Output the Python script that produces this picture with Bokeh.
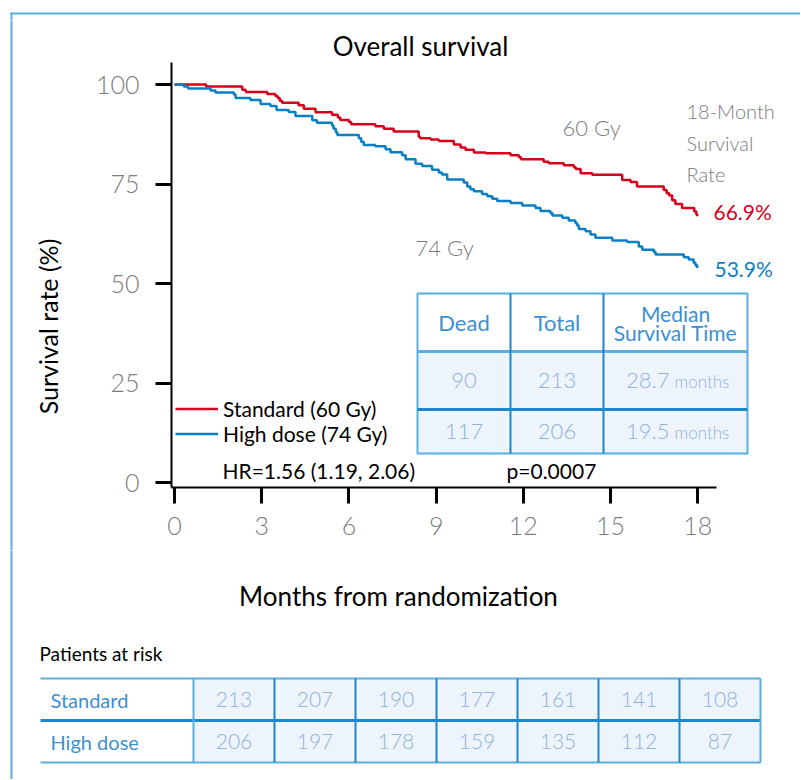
import math
from bokeh.plotting import figure
from bokeh.layouts import column, row
from bokeh.models import Range1d, Label, BoxAnnotation, Legend, LegendItem, FixedTicker
from bokeh.embed import file_html
from bokeh.resources import INLINE

FONT = "Lato"
LIGHT = "Lato Light"
RED = "#d6001c"
BLUE = "#0a7fc4"
GRAY = "#7c7c7c"
FRAME = "#5aaee0"
TBL_LINE = "#5aaee0"
TBL_DARK = "#1f86cc"
TBL_FILL = "#eef4fb"
TBL_HEAD = "#3c8fd2"
TBL_NUM = "#8fb2dc"

# ---------------- data ----------------
std_t = [0, 1.09, 2.33, 2.45, 3.19, 3.47, 3.55, 3.62, 3.70, 4.27, 4.45, 4.85, 5.42, 5.62, 5.70,
         6.00, 6.08, 6.91, 7.20, 7.54, 8.40, 8.45, 8.81, 9.09, 9.61, 9.84, 10.01, 10.30, 10.70,
         11.56, 11.85, 11.92, 12.70, 12.87, 13.39, 13.74, 13.80, 13.97, 14.37, 15.40, 15.69,
         15.91, 16.83, 16.93, 17.02, 17.12, 17.23, 17.46, 17.88, 17.95, 17.98]
std_s = [100, 99.5, 98.7, 98.1, 97.6, 97.1, 96.6, 95.9, 95.4, 94.8, 93.9, 93.0, 92.4, 91.7, 91.1,
         90.6, 90.0, 89.5, 88.9, 88.2, 86.9, 86.5, 86.2, 85.8, 84.9, 84.2, 83.6, 82.9, 82.7,
         82.2, 81.7, 81.2, 80.6, 80.2, 79.7, 79.2, 78.8, 77.7, 77.3, 76.0, 75.5,
         74.4, 73.5, 72.7, 72.1, 70.9, 70.0, 69.0, 68.1, 67.4, 66.9]

hd_t = [0, 0.32, 0.47, 1.24, 1.41, 2.04, 2.10, 2.61, 2.96, 3.30, 3.51, 3.93, 4.16, 4.74, 4.90,
        5.42, 5.47, 5.55, 5.60, 6.34, 6.42, 6.51, 6.91, 7.26, 7.43, 7.83, 7.95, 8.29, 8.52, 8.86,
        9.09, 9.20, 9.38, 9.95, 10.07, 10.18, 10.30, 10.58, 10.76, 10.93, 11.10, 11.56, 11.96,
        12.42, 12.59, 12.93, 13.00, 13.34, 13.56, 13.79, 13.85, 13.91, 14.14, 14.31, 14.48,
        15.06, 15.57, 15.97, 16.09, 16.49, 16.55, 17.52, 17.69, 17.86, 17.92, 17.98]
hd_s = [100, 99.5, 99.0, 98.5, 98.0, 97.5, 96.6, 96.1, 95.1, 94.6, 93.6, 93.1, 92.1, 91.0, 90.4,
        89.7, 88.9, 88.0, 87.3, 86.5, 85.6, 84.8, 84.5, 83.7, 83.0, 82.2, 81.2, 80.1, 79.5, 78.6,
        77.9, 77.4, 76.1, 75.4, 74.4, 73.7, 73.2, 72.5, 71.9, 71.3, 70.7, 70.2, 69.6,
        69.0, 68.2, 67.7, 67.1, 66.5, 65.8, 65.2, 64.6, 63.7, 63.1, 62.3, 61.5,
        60.8, 60.4, 59.3, 58.5, 57.9, 57.3, 56.6, 56.0, 55.2, 54.6, 53.9]

x_ticks = [0, 3, 6, 9, 12, 15, 18]
y_ticks = [0, 25, 50, 75, 100]

series_names = ["Standard (60 Gy)", "High dose (74 Gy)"]
rate_18m = ["66.9%", "53.9%"]

summary_header = ["Dead", "Total", "Median\nSurvival Time"]
summary_dead = [90, 117]
summary_total = [213, 206]
summary_median = ["28.7", "19.5"]

risk_groups = ["Standard", "High dose"]
risk_std = [213, 207, 190, 177, 161, 141, 108]
risk_hd = [206, 197, 178, 159, 135, 112, 87]

# ---------------- layout geometry (page pixels) ----------------
W = 800
TOP_H = 20          # strip with the top frame line
SPLIT_X = 80        # width of the y-label strip
MID_BOTTOM = 550    # bottom of the survival-plot row
H = 779
FRAME_L, FRAME_B = 171, 487   # survival plot frame: left edge / bottom edge

PX_PER_MONTH = 29.07
PX_PER_PCT = 3.98
X0_PX = 174   # pixel of month 0
Y0_PX = 482   # pixel of 0 %


def strip(x0, x1, y0, y1):
    f = figure(width=x1 - x0, height=y1 - y0, x_range=Range1d(x0, x1), y_range=Range1d(y1, y0),
               x_axis_location=None, y_axis_location=None, title=None,
               output_backend="svg", toolbar_location=None,
               min_border_left=0, min_border_right=0, min_border_top=0, min_border_bottom=0)
    f.frame_align = False
    f.outline_line_color = None
    f.xgrid.visible = False
    f.ygrid.visible = False
    return f


def lab(f, x, y, text, size, color, align="left", angle=0.0, font=FONT, rng=None):
    kw = dict(x_range_name=rng, y_range_name=rng) if rng else {}
    f.add_layout(Label(x=x, y=y, text=text, text_font=font, text_font_size=f"{size}px",
                       text_color=color, text_align=align, text_baseline="middle",
                       angle=angle, **kw))


def box(f, l, r, t, b, fill=None, line=None, lw=1.0, rng=None):
    kw = dict(x_range_name=rng, y_range_name=rng) if rng else {}
    f.add_layout(BoxAnnotation(left=l, right=r, top=t, bottom=b,
                               fill_color=fill if fill else "white",
                               fill_alpha=1.0 if fill else 0.0,
                               line_color=line if line else "white",
                               line_alpha=1.0 if line else 0.0, line_width=lw, **kw))


# ---------------- top strip ----------------
top = strip(0, W, 0, TOP_H)
box(top, 10, W + 5, 12, 14, fill=FRAME)
box(top, 10, 12, 12, TOP_H + 2, fill=FRAME)

# ---------------- y-label strip ----------------
left = strip(0, SPLIT_X, TOP_H, MID_BOTTOM)
box(left, 10, 12, TOP_H - 2, MID_BOTTOM + 2, fill=FRAME)
lab(left, 47, 326, "Survival rate (%)", 25, "black", "center", math.pi / 2)

# ---------------- survival plot ----------------
x_start = (FRAME_L - X0_PX) / PX_PER_MONTH
x_end = (W - X0_PX) / PX_PER_MONTH
y_start = (Y0_PX - FRAME_B) / PX_PER_PCT
y_end = (Y0_PX - TOP_H) / PX_PER_PCT
p = figure(width=W - SPLIT_X, height=MID_BOTTOM - TOP_H, title=None,
           x_range=Range1d(x_start, x_end), y_range=Range1d(y_start, y_end),
           output_backend="svg", toolbar_location=None,
           min_border_left=FRAME_L - SPLIT_X, min_border_right=0, min_border_top=0,
           min_border_bottom=MID_BOTTOM - FRAME_B)
p.frame_align = False
p.extra_x_ranges = {"px": Range1d(FRAME_L, W)}
p.extra_y_ranges = {"px": Range1d(FRAME_B, TOP_H)}
p.outline_line_color = None
p.xgrid.visible = False
p.ygrid.visible = False
p.xaxis.ticker = FixedTicker(ticks=x_ticks)
p.yaxis.ticker = FixedTicker(ticks=y_ticks)
p.xaxis.bounds = (x_start, 18.64)
p.yaxis.bounds = (y_start, 105.53)
for ax in (p.xaxis[0], p.yaxis[0]):
    ax.axis_line_color = "black"
    ax.axis_line_width = 2
    ax.major_tick_line_color = "black"
    ax.major_tick_line_width = 3
    ax.major_tick_out = 16
    ax.major_tick_in = 0
    ax.minor_tick_line_color = None
    ax.major_label_text_font = LIGHT
    ax.major_label_text_font_size = "25px"
    ax.major_label_text_color = GRAY
p.xaxis.major_label_standoff = 13
p.yaxis.major_label_standoff = 16

r_std = p.step(std_t, std_s, mode="after", line_color=RED, line_width=2.5)
r_hd = p.step(hd_t, hd_s, mode="after", line_color=BLUE, line_width=2.5)

legend = Legend(items=[LegendItem(label=series_names[0], renderers=[r_std]),
                       LegendItem(label=series_names[1], renderers=[r_hd])],
                location=(4, 41.5), glyph_width=43, glyph_height=23, label_height=23,
                label_standoff=5, spacing=0, padding=0, margin=0,
                border_line_color=None, background_fill_alpha=0,
                label_text_font=FONT, label_text_font_size="21px", label_text_color="black")
p.add_layout(legend)

lab(p, 420, 45, "Overall survival", 26, "black", "center", rng="px")
lab(p, 562, 127, "60 Gy", 22, GRAY, font=LIGHT, rng="px")
lab(p, 415, 247, "74 Gy", 22, GRAY, font=LIGHT, rng="px")
lab(p, 686, 110, "18-Month", 20, GRAY, font=LIGHT, rng="px")
lab(p, 686, 142, "Survival", 20, GRAY, font=LIGHT, rng="px")
lab(p, 686, 173, "Rate", 20, GRAY, font=LIGHT, rng="px")
lab(p, 713, 211, rate_18m[0], 21, RED, rng="px")
lab(p, 714, 268, rate_18m[1], 21, BLUE, rng="px")
lab(p, 222, 470, "HR=1.56 (1.19, 2.06)", 21, "black", rng="px")
lab(p, 506, 470, "p=0.0007", 21, "black", rng="px")

# summary table
tx = [417, 510, 603, 747]
ty = [293, 351, 409, 453]
box(p, tx[0], tx[3], ty[1], ty[3], fill=TBL_FILL, rng="px")
box(p, tx[0], tx[3], ty[0], ty[3], line=TBL_LINE, lw=2, rng="px")
box(p, tx[0], tx[3], ty[1] - 1.5, ty[1] + 1.5, fill=TBL_LINE, rng="px")
box(p, tx[0], tx[3], ty[2] - 1.5, ty[2] + 1.5, fill=TBL_DARK, rng="px")
for cx in tx[1:3]:
    box(p, cx - 1, cx + 1, ty[0], ty[3], fill=TBL_DARK, rng="px")
for j, h in enumerate(summary_header):
    cx = (tx[j] + tx[j + 1]) / 2
    parts = h.split("\n")
    if len(parts) == 1:
        lab(p, cx, (ty[0] + ty[1]) / 2, parts[0], 22, TBL_HEAD, "center", rng="px")
    else:
        lab(p, cx, (ty[0] + ty[1]) / 2 - 9, parts[0], 21, TBL_HEAD, "center", rng="px")
        lab(p, cx, (ty[0] + ty[1]) / 2 + 10, parts[1], 21, TBL_HEAD, "center", rng="px")
for i in range(2):
    cy = (ty[i + 1] + ty[i + 2]) / 2
    lab(p, (tx[0] + tx[1]) / 2, cy, str(summary_dead[i]), 22, TBL_NUM, "center", font=LIGHT, rng="px")
    lab(p, (tx[1] + tx[2]) / 2, cy, str(summary_total[i]), 22, TBL_NUM, "center", font=LIGHT, rng="px")
    lab(p, (tx[2] + tx[3]) / 2 - 6, cy, summary_median[i], 22, TBL_NUM, "right", font=LIGHT, rng="px")
    lab(p, (tx[2] + tx[3]) / 2 - 1, cy + 1, "months", 17, TBL_NUM, "left", font=LIGHT, rng="px")

# ---------------- bottom strip: x label + patients at risk ----------------
bot = strip(0, W, MID_BOTTOM, H)
box(bot, 10, 12, MID_BOTTOM - 2, H + 5, fill=FRAME)
lab(bot, 398, 595, "Months from randomization", 26, "black", "center")
lab(bot, 39, 653, "Patients at risk", 19, "black")
rx0, rx1, cw = 40, 193, 81
ry = [678, 720, 762]
ncol = len(risk_std)
rx_end = rx1 + cw * ncol
box(bot, rx1, rx_end, ry[0], ry[2], fill=TBL_FILL)
box(bot, rx0, rx_end, ry[0] - 1, ry[0] + 1, fill=TBL_LINE)
box(bot, rx0, rx_end, ry[2] - 1, ry[2] + 1, fill=TBL_LINE)
box(bot, rx0, rx_end, ry[1] - 1.5, ry[1] + 1.5, fill=TBL_DARK)
for k in range(ncol + 1):
    cx = rx1 + cw * k
    box(bot, cx - 1, cx + 1, ry[0], ry[2], fill=TBL_DARK if 0 < k < ncol else TBL_LINE)
for i, (g, vals) in enumerate(zip(risk_groups, [risk_std, risk_hd])):
    cy = (ry[i] + ry[i + 1]) / 2
    lab(bot, 50, cy, g, 20, TBL_HEAD)
    for k, v in enumerate(vals):
        lab(bot, rx1 + cw * (k + 0.5), cy, str(v), 21, TBL_NUM, "center", font=LIGHT)

layout = column(top, row(left, p), bot)
open("out.html", "w").write(file_html(layout, INLINE))
